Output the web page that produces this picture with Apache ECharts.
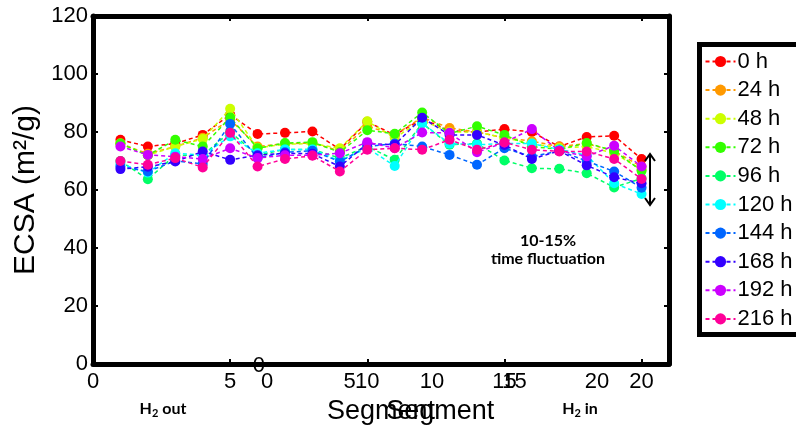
<!DOCTYPE html>
<html><head><meta charset="utf-8">
<script src="https://cdn.jsdelivr.net/npm/echarts@6/dist/echarts.min.js"></script>
<style>html,body{margin:0;padding:0;background:#fff}#c{width:796px;height:425px}</style>
</head><body><div id="c"></div>
<script>
const segments = [1,2,3,4,5,6,7,8,9,10,11,12,13,14,15,16,17,18,19,20];
const seriesNames = ['0 h','24 h','48 h','72 h','96 h','120 h','144 h','168 h','192 h','216 h'];
const seriesColors = ['#ff0000','#ff9900','#ccff00','#33ff00','#00ff66','#00ffff','#0066ff','#3300ff','#cc00ff','#ff0099'];
const h0   = [77.3,75.0,76.0,79.0,86.0,79.3,79.7,80.2,74.0,83.5,79.0,84.5,80.5,80.0,81.0,80.0,75.0,78.3,78.7,70.7];
const h24  = [76.0,72.5,75.0,78.0,84.3,75.0,76.0,76.2,73.5,82.0,79.0,85.0,81.4,80.0,78.0,76.8,75.0,76.0,73.5,68.0];
const h48  = [76.0,72.0,75.0,77.6,88.0,74.5,75.8,76.0,74.4,83.7,78.0,84.0,80.0,80.0,78.0,76.0,74.5,75.0,72.7,67.0];
const h72  = [76.0,72.0,77.3,75.0,85.0,74.4,76.2,76.5,73.0,80.6,79.4,86.7,79.5,82.0,79.0,75.0,74.0,76.2,73.5,66.6];
const h96  = [70.0,63.7,72.0,72.0,80.0,72.0,74.0,74.0,71.0,75.0,70.4,83.0,75.6,76.0,70.2,67.5,67.3,65.8,60.9,64.0];
const h120 = [69.0,66.0,72.7,72.0,78.5,72.7,74.0,74.0,70.0,74.5,68.3,83.0,76.0,75.6,76.0,76.0,74.0,72.0,62.3,58.6];
const h144 = [68.1,66.4,70.0,69.0,82.8,71.0,73.0,73.5,69.8,75.0,76.0,75.0,72.1,68.7,74.4,71.5,73.5,70.0,66.4,60.8];
const h168 = [67.2,68.0,69.8,73.3,70.4,72.0,72.7,72.5,68.1,76.0,75.6,84.9,79.0,79.0,75.5,70.7,73.5,68.5,64.4,62.3];
const h192 = [75.0,72.1,71.5,70.7,74.4,71.0,72.0,72.0,72.7,76.5,74.4,79.8,79.7,73.0,76.4,81.0,73.5,71.6,75.3,68.1];
const h216 = [70.0,68.7,71.0,67.8,79.7,68.1,70.7,71.8,66.4,73.9,74.4,73.9,77.3,73.9,76.4,73.9,73.3,73.3,70.7,63.8];
const allValues = [h0,h24,h48,h72,h96,h120,h144,h168,h192,h216];
const xTickValues = [0,5,10,15,20];
const yTickValues = [0,20,40,60,80,100,120];
const xAxisTitle = 'Segment';
const yAxisTitle = 'ECSA (m²/g)';
const noteLines = ['10-15%','time fluctuation'];

const FONT = '"Liberation Sans", Arial, sans-serif';
const BFONT = 'Lato, "Liberation Sans", sans-serif';
const chart = echarts.init(document.getElementById('c'), null, {renderer:'canvas'});

const spine = {show:true, onZero:false, lineStyle:{color:'#000', width:5}};
const tickIn = {show:true, inside:true, length:5, lineStyle:{color:'#000', width:2}};
const xFmt = v => xTickValues.indexOf(v) >= 0 ? String(v) : '';
const yFmt = v => yTickValues.indexOf(v) >= 0 ? String(v) : '';

const series = seriesNames.map((n,i) => ({
  name:n, type:'line', xAxisIndex:0, yAxisIndex:0,
  data: segments.map((s,j) => [s, allValues[i][j]]),
  symbol:'circle', symbolSize:10,
  itemStyle:{color:seriesColors[i]},
  lineStyle:{color:seriesColors[i], width:1.5, type:[4,3]},
  z: 3 + i*0.01,
  animation:false
}));

const option = {
  animation:false,
  backgroundColor:'#fff',
  textStyle:{fontFamily:FONT},
  grid:[
    {left:93, top:16, right:127, bottom:61, containLabel:false, outerBoundsMode:'none', z:5},
    {left:267, top:16, width:346.5, bottom:59, containLabel:false, outerBoundsMode:'none', z:0}
  ],
  xAxis:[
    {gridIndex:0, type:'value', min:0, max:21, interval:5, position:'bottom',
     axisLine:spine, axisTick:tickIn, splitLine:{show:false},
     axisLabel:{formatter:xFmt, fontSize:22, color:'#000', margin:7, fontFamily:FONT, showMaxLabel:false},
     name:xAxisTitle, nameLocation:'middle', nameGap:29,
     nameTextStyle:{fontSize:27, color:'#000', fontFamily:FONT}, z:5, zlevel:1},
    {gridIndex:0, type:'value', min:0, max:21, interval:5, position:'top',
     axisLine:spine, axisTick:tickIn, splitLine:{show:false}, axisLabel:{show:false}, z:5, zlevel:1},
    {gridIndex:1, type:'value', min:0, max:21, interval:5, position:'bottom',
     axisLine:{show:false, onZero:false}, axisTick:{show:false}, splitLine:{show:false},
     axisLabel:{formatter:xFmt, fontSize:22, color:'#000', margin:5, fontFamily:FONT, showMaxLabel:false},
     name:xAxisTitle, nameLocation:'middle', nameGap:27,
     nameTextStyle:{fontSize:27, color:'#000', fontFamily:FONT}, z:0}
  ],
  yAxis:[
    {gridIndex:0, type:'value', min:0, max:120, interval:20, position:'left',
     axisLine:spine, axisTick:tickIn, splitLine:{show:false},
     axisLabel:{formatter:yFmt, fontSize:22, color:'#000', margin:5, fontFamily:FONT},
     name:yAxisTitle, nameLocation:'middle', nameGap:48, nameRotate:90,
     nameTextStyle:{fontSize:30, color:'#000', fontFamily:FONT}, z:5, zlevel:1},
    {gridIndex:0, type:'value', min:0, max:120, interval:20, position:'right',
     axisLine:spine, axisTick:tickIn, splitLine:{show:false}, axisLabel:{show:false}, z:5, zlevel:1},
    {gridIndex:1, type:'value', min:0, max:120, interval:20, position:'left',
     axisLine:{show:false, onZero:false}, axisTick:{show:false}, splitLine:{show:false},
     axisLabel:{formatter: v => v === 0 ? '0' : '', fontSize:22, color:'#000', margin:2, fontFamily:FONT}, z:0}
  ],
  legend:{
    orient:'vertical', left:699.5, top:44.5,
    padding:[6,4,6,5],
    itemWidth:30, itemHeight:14, itemGap:6.6,
    borderWidth:0, backgroundColor:'transparent', z:6,
    textStyle:{fontSize:22, color:'#000', lineHeight:22, fontFamily:FONT, padding:[0,0,0,-3]},
    data:seriesNames
  },
  series:series,
  graphic:[
    {type:'rect', z:1, shape:{x:699.5, y:44.5, width:160, height:290},
     style:{stroke:'#000', lineWidth:5, fill:'#fff'}},
    {type:'text', x:548, y:241, z:10,
     style:{text:noteLines[0], font:'bold 16px ' + BFONT, fill:'#000', textAlign:'center', textVerticalAlign:'middle'}},
    {type:'text', x:548, y:259, z:10,
     style:{text:noteLines[1], font:'bold 16px ' + BFONT, fill:'#000', textAlign:'center', textVerticalAlign:'middle'}},
    {type:'text', x:163, y:409, z:10,
     style:{text:'{a|H}{s|2}{a| out}', textAlign:'center', textVerticalAlign:'middle',
       rich:{a:{font:'bold 16px ' + BFONT, fill:'#000'},
             s:{font:'bold 11px ' + BFONT, fill:'#000', padding:[8,0,0,0]}}}},
    {type:'text', x:580, y:409, z:10,
     style:{text:'{a|H}{s|2}{a| in}', textAlign:'center', textVerticalAlign:'middle',
       rich:{a:{font:'bold 16px ' + BFONT, fill:'#000'},
             s:{font:'bold 11px ' + BFONT, fill:'#000', padding:[8,0,0,0]}}}},
    {type:'line', z:10, shape:{x1:650, y1:154, x2:650, y2:205}, style:{stroke:'#000', lineWidth:2}},
    {type:'polyline', z:10, shape:{points:[[645,161],[650,154],[655,161]]}, style:{stroke:'#000', lineWidth:2, fill:null}},
    {type:'polyline', z:10, shape:{points:[[645,198],[650,205],[655,198]]}, style:{stroke:'#000', lineWidth:2, fill:null}}
  ]
};
chart.setOption(option);
</script>
</body></html>
